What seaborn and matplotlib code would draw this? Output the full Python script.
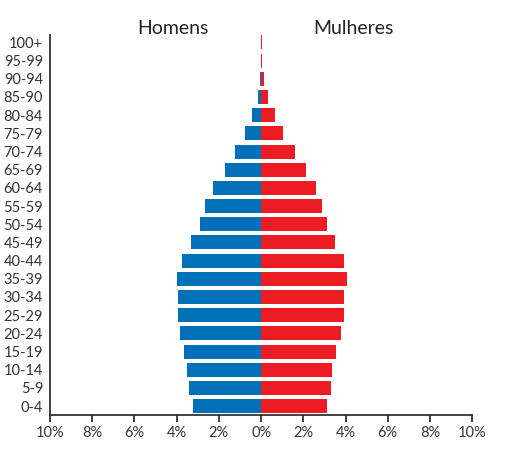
import matplotlib
matplotlib.use("Agg")
import matplotlib.pyplot as plt
import seaborn as sns
import pandas as pd
from matplotlib.ticker import FixedLocator, FuncFormatter

age_groups = ["100+", "95-99", "90-94", "85-90", "80-84", "75-79", "70-74",
              "65-69", "60-64", "55-59", "50-54", "45-49", "40-44", "35-39",
              "30-34", "25-29", "20-24", "15-19", "10-14", "5-9", "0-4"]
men = [0.02, 0.02, 0.05, 0.14, 0.42, 0.75, 1.23, 1.70, 2.26, 2.64, 2.88,
       3.30, 3.77, 3.96, 3.92, 3.92, 3.82, 3.63, 3.49, 3.40, 3.21]
women = [0.04, 0.05, 0.12, 0.33, 0.66, 1.04, 1.60, 2.12, 2.59, 2.88, 3.11,
         3.49, 3.92, 4.06, 3.92, 3.92, 3.77, 3.54, 3.35, 3.30, 3.11]
x_ticks = [-10, -8, -6, -4, -2, 0, 2, 4, 6, 8, 10]

sns.set_theme(style="white")
plt.rcParams['font.family'] = ['Lato', 'DejaVu Sans']

df_m = pd.DataFrame({"age": age_groups, "value": [-v for v in men]})
df_w = pd.DataFrame({"age": age_groups, "value": women})

fig = plt.figure(figsize=(5.15, 4.75), dpi=100)
ax = fig.add_axes([0.097, 0.126, 0.820, 0.800])

sns.barplot(data=df_m, x="value", y="age", order=age_groups, orient="h",
            color="#0070b8", saturation=1, width=0.77, linewidth=0, ax=ax)
sns.barplot(data=df_w, x="value", y="age", order=age_groups, orient="h",
            color="#ed1c24", saturation=1, width=0.77, linewidth=0, ax=ax)

ax.set_xlim(-10, 10)
ax.set_ylim(20.5, -0.4)
ax.xaxis.set_major_locator(FixedLocator(x_ticks))
ax.xaxis.set_major_formatter(FuncFormatter(lambda v, p: f"{abs(int(round(v)))}%"))
ax.set_xlabel("")
ax.set_ylabel("")

for s in ["top", "right"]:
    ax.spines[s].set_visible(False)
for s in ["left", "bottom"]:
    ax.spines[s].set_visible(True)
    ax.spines[s].set_color("#333333")
    ax.spines[s].set_linewidth(1.3)

ax.tick_params(axis="x", direction="out", length=5, width=1.3, color="#333333",
               labelsize=10.5, labelcolor="#333333", pad=3, bottom=True)
ax.tick_params(axis="y", length=0, labelsize=10.5, labelcolor="#333333", pad=5)

fig.text(173 / 515, 1 - 28 / 475, "Homens", ha="center", va="center",
         fontsize=14, color="#222222")
fig.text(353 / 515, 1 - 28 / 475, "Mulheres", ha="center", va="center",
         fontsize=14, color="#222222")

fig.savefig("out.png", dpi=100, facecolor="white")
